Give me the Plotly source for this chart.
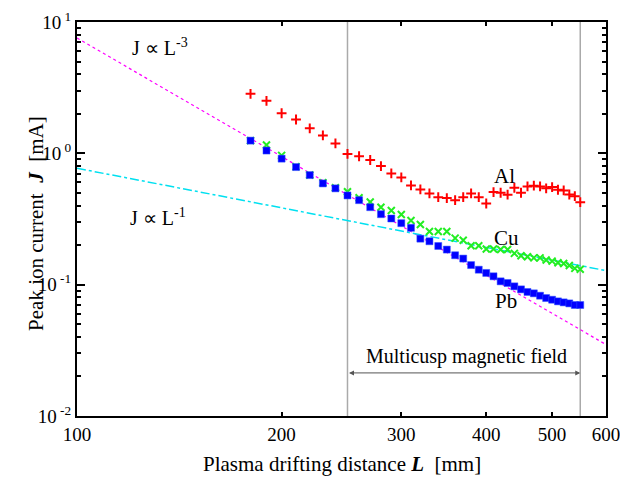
import math
import plotly.graph_objects as go

# ---- data ----
L_mm = [180, 190, 200, 210, 220, 230, 240, 250, 260, 270,
        280, 290, 300, 310, 320, 330, 340, 350, 360, 370,
        380, 390, 400, 410, 420, 430, 440, 450, 460, 470,
        480, 490, 500, 510, 520, 530, 540, 550]

J_Al = [2.84, 2.51, 2.02, 1.81, 1.55, 1.37, 1.19, 0.99, 0.95, 0.89,
        0.800, 0.703, 0.656, 0.570, 0.531, 0.495, 0.464, 0.456, 0.440, 0.464,
        0.495, 0.464, 0.415, 0.507, 0.501, 0.484, 0.547, 0.501, 0.560, 0.567,
        0.560, 0.541, 0.553, 0.528, 0.522, 0.486, 0.472, 0.425]

J_Cu = [1.25, 1.157, 0.965, 0.792, 0.683, 0.598, 0.547, 0.510, 0.459, 0.426,
        0.389, 0.367, 0.342, 0.308, 0.287, 0.254, 0.254, 0.254, 0.226, 0.218,
        0.198, 0.198, 0.187, 0.187, 0.185, 0.185, 0.173, 0.166, 0.163, 0.160,
        0.160, 0.154, 0.151, 0.147, 0.145, 0.140, 0.133, 0.131]

J_Pb = [1.25, 1.05, 0.911, 0.786, 0.683, 0.590, 0.541, 0.478, 0.440, 0.389,
        0.344, 0.319, 0.294, 0.271, 0.224, 0.214, 0.197, 0.185, 0.1675, 0.158,
        0.141, 0.130, 0.1228, 0.1158, 0.106, 0.103, 0.0971, 0.0921, 0.088, 0.0859,
        0.0824, 0.0791, 0.0768, 0.0746, 0.0733, 0.072, 0.070, 0.070]

# reference power-law lines (end points)
fit_L = [100, 600]
fit_J3 = [7.55, 0.035]   # J ∝ L^-3
fit_J1 = [0.77, 0.128]   # J ∝ L^-1

# multicusp region borders
cusp_L = [250, 550]

x_ticks = [100, 200, 300, 400, 500, 600]
y_ticks = [0.01, 0.1, 1, 10]
y_ticktext = ["10<sup> -2</sup>", "10<sup> -1</sup>", "10<sup> 0</sup>", "10<sup> 1</sup>"]
y_minor = [m * d for d in [0.01, 0.1, 1] for m in range(2, 10)]

FONT = "Liberation Serif"

fig = go.Figure()

# vertical region lines
for Lc in cusp_L:
    fig.add_trace(go.Scatter(x=[Lc, Lc], y=[0.01, 10], mode="lines",
                             line=dict(color="#aaaaaa", width=1.5),
                             hoverinfo="skip", showlegend=False))

fig.add_trace(go.Scatter(x=fit_L, y=fit_J3, mode="lines",
                         line=dict(color="#ff00ff", width=1.2, dash="dot"),
                         showlegend=False))
fig.add_trace(go.Scatter(x=fit_L, y=fit_J1, mode="lines",
                         line=dict(color="#00e0f0", width=1.5, dash="dashdot"),
                         showlegend=False))

fig.add_trace(go.Scatter(x=L_mm, y=J_Al, mode="markers", name="Al",
                         marker=dict(symbol="cross-thin", size=7,
                                     line=dict(color="#ff0000", width=2)),
                         showlegend=False))
fig.add_trace(go.Scatter(x=L_mm, y=J_Cu, mode="markers", name="Cu",
                         marker=dict(symbol="x-thin", size=7,
                                     line=dict(color="#22ee22", width=2)),
                         showlegend=False))
fig.add_trace(go.Scatter(x=L_mm, y=J_Pb, mode="markers", name="Pb",
                         marker=dict(symbol="square", size=7, color="#0000ff",
                                     line=dict(color="#3355ff", width=0.5)),
                         showlegend=False))

ann_font = dict(family=FONT, size=20, color="black")
lg = math.log10
annotations = [
    dict(x=2.078, y=0.809, xref="x", yref="y", text="J ∝ L<sup>-3</sup>",
         showarrow=False, xanchor="left", yanchor="middle", font=ann_font),
    dict(x=2.075, y=-0.481, xref="x", yref="y", text="J ∝ L<sup>-1</sup>",
         showarrow=False, xanchor="left", yanchor="middle", font=ann_font),
    dict(x=2.629, y=-0.1756, xref="x", yref="y", text="Al",
         showarrow=False, font=dict(family=FONT, size=21, color="black")),
    dict(x=2.632, y=-0.641, xref="x", yref="y", text="Cu",
         showarrow=False, font=dict(family=FONT, size=21, color="black")),
    dict(x=2.631, y=-1.122, xref="x", yref="y", text="Pb",
         showarrow=False, font=dict(family=FONT, size=21, color="black")),
    dict(x=2.5735, y=-1.5496, xref="x", yref="y", text="Multicusp magnetic field",
         showarrow=False, font=ann_font),
    dict(x=lg(cusp_L[1]), y=-1.672, ax=lg(cusp_L[0]), ay=-1.672,
         xref="x", yref="y", axref="x", ayref="y", text="",
         showarrow=True, arrowhead=2, arrowside="end+start", arrowsize=1,
         arrowwidth=1, arrowcolor="#555555"),
    dict(x=0.5, y=-0.158, xref="paper", yref="paper",
         text="Plasma drifting distance <b><i>L</i></b>  [mm]",
         showarrow=False, font=dict(family=FONT, size=21, color="black")),
    dict(x=-0.104, y=0.49, xref="paper", yref="paper", textangle=-90,
         text="Peak ion current  <b><i>J</i></b>  [mA]",
         showarrow=False, font=dict(family=FONT, size=21, color="black")),
]

fig.update_layout(
    width=620, height=486,
    margin=dict(l=77, r=14, t=22, b=70, autoexpand=False),
    paper_bgcolor="white", plot_bgcolor="white",
    showlegend=False,
    annotations=annotations,
    font=dict(family=FONT, size=19, color="black"),
    xaxis=dict(type="log", range=[2, lg(600) + 1e-4], tickvals=x_ticks,
               ticktext=[str(v) for v in x_ticks], automargin=False,
               ticklabeloverflow="allow",
               ticks="inside", ticklen=4, tickwidth=1.5, tickcolor="black",
               showline=True, linewidth=2, linecolor="black", mirror="allticks",
               showgrid=False, zeroline=False,
               tickfont=dict(family=FONT, size=19)),
    yaxis=dict(type="log", range=[-2, 1], tickvals=y_ticks, ticktext=y_ticktext,
               automargin=False, ticklabeloverflow="allow",
               ticks="inside", ticklen=8, tickwidth=1.5, tickcolor="black",
               showline=True, linewidth=2, linecolor="black", mirror="allticks",
               showgrid=False, zeroline=False,
               minor=dict(tickvals=y_minor, ticks="inside", ticklen=4,
                          tickwidth=1.5, tickcolor="black", showgrid=False),
               tickfont=dict(family=FONT, size=19)),
)

fig.write_html(
    "out.html",
    config={"displayModeBar": False},
    post_script="document.body.style.margin='0';document.body.style.overflow='hidden';",
)
